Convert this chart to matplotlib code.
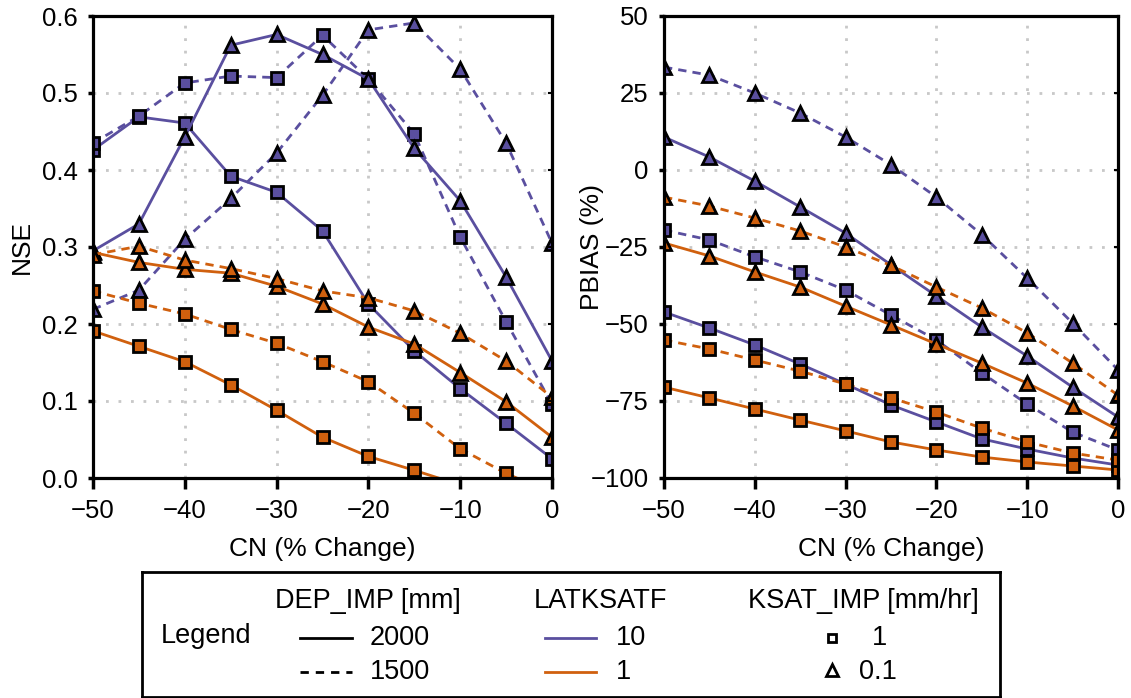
import matplotlib
matplotlib.use("Agg")
import matplotlib.pyplot as plt
from matplotlib.lines import Line2D

plt.rcParams['font.family'] = ['Liberation Sans', 'DejaVu Sans']

cn = [-50, -45, -40, -35, -30, -25, -20, -15, -10, -5, 0]

# NSE: names = DEP_IMP _ LATKSATF _ KSAT_IMP
nse_2000_10_1   = [0.426, 0.469, 0.461, 0.392, 0.371, 0.321, 0.226, 0.165, 0.116, 0.071, 0.025]
nse_1500_10_1   = [0.435, 0.470, 0.513, 0.522, 0.520, 0.575, 0.518, 0.447, 0.313, 0.203, 0.096]
nse_2000_10_01  = [0.295, 0.330, 0.443, 0.562, 0.576, 0.550, 0.518, 0.428, 0.360, 0.261, 0.152]
nse_1500_10_01  = [0.219, 0.244, 0.310, 0.363, 0.422, 0.497, 0.582, 0.591, 0.531, 0.435, 0.305]
nse_2000_1_01   = [0.293, 0.280, 0.271, 0.266, 0.249, 0.226, 0.196, 0.174, 0.137, 0.099, 0.053]
nse_1500_1_01   = [0.290, 0.301, 0.283, 0.272, 0.259, 0.243, 0.234, 0.217, 0.188, 0.152, 0.105]
nse_2000_1_1    = [0.191, 0.171, 0.151, 0.121, 0.088, 0.053, 0.028, 0.010, -0.009, -0.030, -0.055]
nse_1500_1_1    = [0.243, 0.227, 0.213, 0.193, 0.175, 0.151, 0.125, 0.084, 0.038, 0.006, -0.020]

# PBIAS (%)
pb_2000_10_1    = [-46.1, -51.3, -56.8, -63.0, -69.5, -76.3, -81.8, -87.3, -90.6, -93.5, -95.8]
pb_1500_10_1    = [-19.5, -22.7, -28.2, -33.1, -39.0, -47.1, -55.2, -65.9, -76.0, -85.1, -90.9]
pb_2000_10_01   = [10.7, 4.2, -3.6, -12.0, -20.5, -30.8, -40.9, -51.0, -60.4, -70.5, -80.2]
pb_1500_10_01   = [33.4, 30.8, 25.0, 18.5, 10.7, 1.7, -8.8, -21.0, -35.1, -49.7, -64.9]
pb_2000_1_01    = [-23.7, -27.9, -33.1, -38.0, -44.2, -50.3, -56.5, -62.7, -69.2, -76.6, -84.4]
pb_1500_1_01    = [-8.8, -11.7, -15.6, -19.8, -25.0, -31.0, -38.0, -44.8, -52.9, -62.7, -73.1]
pb_2000_1_1     = [-70.5, -74.0, -77.6, -81.2, -84.7, -88.3, -90.9, -93.2, -94.8, -96.1, -97.4]
pb_1500_1_1     = [-55.2, -58.1, -61.7, -65.3, -69.5, -74.0, -78.6, -83.8, -88.3, -91.9, -94.2]

xtick_vals = [-50, -40, -30, -20, -10, 0]
xtick_labels = ['\u221250', '\u221240', '\u221230', '\u221220', '\u221210', '0']
nse_ticks = [0, 0.1, 0.2, 0.3, 0.4, 0.5, 0.6]
nse_labels = ['0.0', '0.1', '0.2', '0.3', '0.4', '0.5', '0.6']
pb_ticks = [-100, -75, -50, -25, 0, 25, 50]
pb_labels = ['\u2212100', '\u221275', '\u221250', '\u221225', '0', '25', '50']

purple = '#5a4f9f'
orange = '#d0600e'

series_nse = [
    (nse_2000_10_1, '-', purple, 's'), (nse_1500_10_1, '--', purple, 's'),
    (nse_2000_10_01, '-', purple, '^'), (nse_1500_10_01, '--', purple, '^'),
    (nse_2000_1_01, '-', orange, '^'), (nse_1500_1_01, '--', orange, '^'),
    (nse_2000_1_1, '-', orange, 's'), (nse_1500_1_1, '--', orange, 's'),
]
series_pb = [
    (pb_2000_10_1, '-', purple, 's'), (pb_1500_10_1, '--', purple, 's'),
    (pb_2000_10_01, '-', purple, '^'), (pb_1500_10_01, '--', purple, '^'),
    (pb_2000_1_01, '-', orange, '^'), (pb_1500_1_01, '--', orange, '^'),
    (pb_2000_1_1, '-', orange, 's'), (pb_1500_1_1, '--', orange, 's'),
]

W, H = 1131, 698
fig = plt.figure(figsize=(W / 100, H / 100), dpi=100)

FS = 18.5
LBL = 19

def px_rect(l, t, r, b):
    return [l / W, 1 - b / H, (r - l) / W, (b - t) / H]

ax1 = fig.add_axes(px_rect(93, 16, 552, 478))
ax2 = fig.add_axes(px_rect(664, 16, 1118, 478))

def style(ax, series, ylim, yticks, yticklabels, ylabel, ylab_x):
    for vals, ls, col, mk in series:
        ms = 8 if mk == 's' else 10
        ax.plot(cn, vals, linestyle=ls, color=col, lw=2.0, marker=mk, ms=ms,
                mfc=col, mec='black', mew=2.0, clip_on=True, zorder=3,
                dashes=(3, 2.2) if ls == '--' else (None, None))
    ax.set_xlim(-50, 0)
    ax.set_ylim(*ylim)
    ax.set_xticks(xtick_vals)
    ax.set_xticklabels(xtick_labels)
    ax.set_yticks(yticks)
    ax.set_yticklabels(yticklabels)
    ax.grid(True, color='#c8c8c8', linestyle=(0, (1, 3.5)), lw=2.0, zorder=0)
    for s in ax.spines.values():
        s.set_linewidth(2.3)
        s.set_zorder(4)
    ax.tick_params(axis='x', direction='out', length=8, width=2.5, labelsize=FS, pad=7)
    ax.tick_params(axis='y', direction='out', length=3.6, width=2.5, labelsize=FS, pad=7.5)
    ax.set_xlabel('CN (% Change)', fontsize=LBL)
    ax.set_ylabel(ylabel, fontsize=LBL)
    ax.xaxis.set_label_coords(0.5, -0.128)
    ax.yaxis.set_label_coords(ylab_x, 0.5)

style(ax1, series_nse, (0, 0.6), nse_ticks, nse_labels, 'NSE', -0.1285)
style(ax2, series_pb, (-100, 50), pb_ticks, pb_labels, 'PBIAS (%)', -0.132)
for ax in (ax1, ax2):
    for yv in ax.get_yticks()[1:-1]:
        ax.plot([1.0, 0.993], [yv, yv], color='black', lw=1.5,
                transform=ax.get_yaxis_transform(), clip_on=False, zorder=5)

# Legend box
lg = fig.add_axes(px_rect(142, 572, 1000, 697))
lg.set_xlim(142, 1000)
lg.set_ylim(697, 572)
lg.set_xticks([])
lg.set_yticks([])
for s in lg.spines.values():
    s.set_linewidth(2.0)

LFS = 19.5
lg.text(368, 601, 'DEP_IMP [mm]', fontsize=LFS, ha='center', va='center')
lg.text(600, 601, 'LATKSATF', fontsize=LFS, ha='center', va='center')
lg.text(863, 601, 'KSAT_IMP [mm/hr]', fontsize=LFS, ha='center', va='center')
lg.text(161, 636, 'Legend', fontsize=LFS, ha='left', va='center')

lg.add_line(Line2D([300, 352], [638, 638], color='black', lw=2.0))
lg.add_line(Line2D([300, 352], [672, 672], color='black', lw=2.0, linestyle='--', dashes=(3, 2.5)))
lg.text(370, 638, '2000', fontsize=LFS, ha='left', va='center')
lg.text(370, 672, '1500', fontsize=LFS, ha='left', va='center')

lg.add_line(Line2D([545, 596], [638, 638], color=purple, lw=2.0))
lg.add_line(Line2D([545, 596], [672, 672], color=orange, lw=2.0))
lg.text(616, 638, '10', fontsize=LFS, ha='left', va='center')
lg.text(616, 672, '1', fontsize=LFS, ha='left', va='center')

lg.add_line(Line2D([832], [638], marker='s', ms=6, mfc='white', mec='black', mew=2.0, linestyle='none'))
lg.add_line(Line2D([832], [670], marker='^', ms=8, mfc='white', mec='black', mew=2.0, linestyle='none'))
lg.text(872, 638, '1', fontsize=LFS, ha='left', va='center')
lg.text(859, 672, '0.1', fontsize=LFS, ha='left', va='center')

fig.savefig('out.png', dpi=100)
